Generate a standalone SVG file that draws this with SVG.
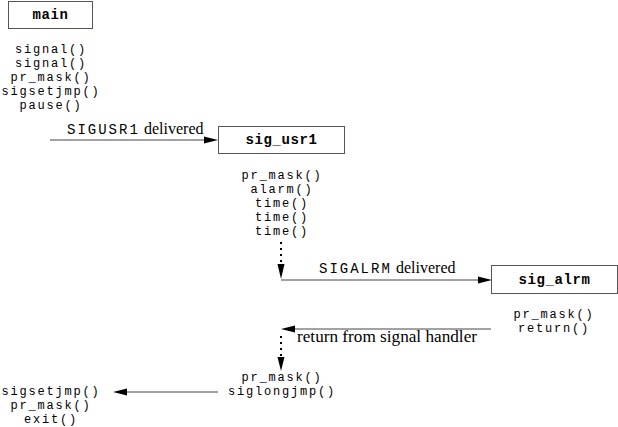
<svg xmlns="http://www.w3.org/2000/svg" width="618" height="427" viewBox="0 0 618 427">
<style>
.box{fill:#fff;stroke:#555;stroke-width:1}
.title{font-family:"Liberation Mono",monospace;font-weight:bold;font-size:14px;letter-spacing:0.6px;fill:#000;text-anchor:middle}
.code{font-family:"Liberation Mono",monospace;font-size:12px;letter-spacing:1.8px;fill:#000;text-anchor:middle}
.lbl{font-family:"Liberation Serif",serif;font-size:16px;fill:#000}
.lblm{font-family:"Liberation Mono",monospace;font-size:14px;letter-spacing:2px;fill:#000}
.ln{stroke:#444;stroke-width:1;fill:none}
.dot{stroke:#000;stroke-width:2;fill:none;stroke-dasharray:2 4}
.ah{fill:#000}
</style>
<rect width="618" height="427" fill="#fff"/>
<g id="main">
<rect class="box" x="8.5" y="1.5" width="84" height="27"/>
<text class="title" x="50.5" y="19">main</text>
<text class="code" x="51" y="53">signal()</text>
<text class="code" x="51" y="67">signal()</text>
<text class="code" x="51" y="81">pr_mask()</text>
<text class="code" x="51" y="95">sigsetjmp()</text>
<text class="code" x="51" y="109">pause()</text>
</g>
<g id="sig_usr1">
<rect class="box" x="218.5" y="126.5" width="126" height="27"/>
<text class="title" x="281.5" y="144">sig_usr1</text>
<text class="code" x="282" y="179">pr_mask()</text>
<text class="code" x="282" y="193">alarm()</text>
<text class="code" x="282" y="207">time()</text>
<text class="code" x="282" y="221">time()</text>
<text class="code" x="282" y="235">time()</text>
</g>
<g id="sig_alrm">
<rect class="box" x="491.5" y="265.5" width="126" height="28"/>
<text class="title" x="554.5" y="284">sig_alrm</text>
<text class="code" x="554" y="318">pr_mask()</text>
<text class="code" x="554" y="332">return()</text>
</g>
<g id="resume">
<text class="code" x="282" y="381">pr_mask()</text>
<text class="code" x="282" y="395">siglongjmp()</text>
</g>
<g id="main_end">
<text class="code" x="51" y="395">sigsetjmp()</text>
<text class="code" x="51" y="409">pr_mask()</text>
<text class="code" x="51" y="423">exit()</text>
</g>
<g id="connectors">
<line class="ln" x1="50" y1="140" x2="205" y2="140"/>
<polygon class="ah" points="218,140 204,136.5 204,143.5"/>
<text x="67" y="134"><tspan class="lblm">SIGUSR1</tspan><tspan class="lbl" x="144">delivered</tspan></text>

<line class="dot" x1="281" y1="242" x2="281" y2="262"/>
<polygon class="ah" points="281,279 277.5,264 284.5,264"/>
<line class="ln" x1="281" y1="280" x2="479" y2="280"/>
<polygon class="ah" points="492,280 478,276.5 478,283.5"/>
<text x="319" y="273"><tspan class="lblm">SIGALRM</tspan><tspan class="lbl" x="396">delivered</tspan></text>

<line class="ln" x1="491" y1="329" x2="294" y2="329"/>
<polygon class="ah" points="281,329 295,325.5 295,332.5"/>
<text class="lbl" x="297" y="342" textLength="180" lengthAdjust="spacingAndGlyphs">return from signal handler</text>

<line class="dot" x1="281" y1="336" x2="281" y2="356"/>
<polygon class="ah" points="281,371 277.5,357 284.5,357"/>

<line class="ln" x1="218" y1="392" x2="126" y2="392"/>
<polygon class="ah" points="113,392 127,388.5 127,395.5"/>
</g>
</svg>
